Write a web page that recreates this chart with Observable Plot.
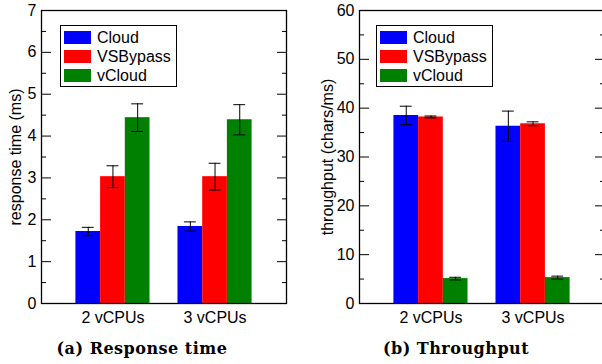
<!DOCTYPE html>
<html>
<head>
<meta charset="utf-8">
<script src="https://cdn.jsdelivr.net/npm/d3@7"></script>
<script src="https://cdn.jsdelivr.net/npm/@observablehq/plot@0.6"></script>
<style>
  html, body { margin: 0; padding: 0; background: #fff; }
  #wrap { position: relative; width: 602px; height: 364px; overflow: hidden; font-family: "Liberation Sans", Arial, sans-serif; }
  .panel { position: absolute; top: 0; width: 300px; height: 364px; }
  .panel svg { position: absolute; left: 0; top: 0; overflow: visible; }
  .legend { position: absolute; border: 1px solid #000; background: #fff; box-sizing: border-box; }
  .sw { position: absolute; width: 27px; height: 13px; }
  .lt { position: absolute; font-size: 16px; line-height: 16px; color: #000; white-space: nowrap; }
  .cap { position: absolute; top: 339px; width: 300px; text-align: center; font-family: "DejaVu Serif", serif; font-weight: bold; font-size: 16px; letter-spacing: 0.5px; line-height: 20px; color: #000; white-space: nowrap; }
</style>
</head>
<body>
<div id="wrap">
  <div class="panel" id="pa" style="left:0px"></div>
  <div class="panel" id="pb" style="left:318px"></div>
</div>
<script>
// ---- data ----
const groups = ["2 vCPUs", "3 vCPUs"];
const series = ["Cloud", "VSBypass", "vCloud"];
const colors = ["#0000ff", "#ff0000", "#008000"];

// (a) response time (ms)
const respCloud = [1.72, 1.84];
const respCloudErr = [0.10, 0.11];
const respVSBypass = [3.03, 3.03];
const respVSBypassErr = [0.26, 0.32];
const respVCloud = [4.44, 4.39];
const respVCloudErr = [0.33, 0.36];

// (b) throughput (chars/ms)
const tputCloud = [38.5, 36.3];
const tputCloudErr = [1.9, 3.1];
const tputVSBypass = [38.2, 36.8];
const tputVSBypassErr = [0.2, 0.4];
const tputVCloud = [5.1, 5.3];
const tputVCloudErr = [0.27, 0.3];

const respMajor = [0, 1, 2, 3, 4, 5, 6, 7];
const respMinor = [0.5, 1.5, 2.5, 3.5, 4.5, 5.5, 6.5];
const tputMajor = [0, 10, 20, 30, 40, 50, 60];
const tputMinor = [5, 15, 25, 35, 45, 55];

function rows(vals, errs) {
  const out = [];
  groups.forEach((g, gi) => {
    series.forEach((s, si) => {
      out.push({group: g, gi, series: s, si, value: vals[si][gi], err: errs[si][gi]});
    });
  });
  return out;
}

const respData = rows([respCloud, respVSBypass, respVCloud], [respCloudErr, respVSBypassErr, respVCloudErr]);
const tputData = rows([tputCloud, tputVSBypass, tputVCloud], [tputCloudErr, tputVSBypassErr, tputVCloudErr]);

const BW = 0.242;   // bar width in group units
const CAP = 0.058;  // half width of error caps
const center = d => d.gi + (d.si - 1) * BW;

function chart(data, yDomain, major, minor, ylabel, labelDx) {
  return Plot.plot({
    width: 300,
    height: 330,
    marginLeft: 41,
    marginRight: 14,
    marginTop: 10,
    marginBottom: 27,
    style: {fontFamily: "Liberation Sans, Arial, sans-serif", fontSize: "16px", color: "#000", background: "transparent", overflow: "visible"},
    x: {domain: [-0.7, 1.7], axis: null},
    y: {domain: yDomain, axis: null},
    color: {domain: series, range: colors},
    marks: [
      Plot.rectY(data, {x1: d => center(d) - BW / 2, x2: d => center(d) + BW / 2, y: "value", fill: "series"}),
      Plot.ruleX(data, {x: center, y1: d => d.value - d.err, y2: d => d.value + d.err, stroke: "#000", strokeWidth: 1}),
      Plot.ruleY(data, {x1: d => center(d) - CAP, x2: d => center(d) + CAP, y: d => d.value - d.err, stroke: "#000", strokeWidth: 1}),
      Plot.ruleY(data, {x1: d => center(d) - CAP, x2: d => center(d) + CAP, y: d => d.value + d.err, stroke: "#000", strokeWidth: 1}),
      Plot.axisY({ticks: major, tickSize: -10, tickPadding: 15, tickFormat: d3.format("d"), label: null, strokeWidth: 1}),
      Plot.axisY({ticks: minor, tickSize: -5, tickFormat: () => "", label: null}),
      Plot.axisY({anchor: "right", ticks: major, tickSize: -10, tickFormat: () => "", label: null}),
      Plot.axisY({anchor: "right", ticks: minor, tickSize: -5, tickFormat: () => "", label: null}),
      Plot.axisX({ticks: [0, 1], tickFormat: i => groups[i], tickSize: 0, tickPadding: 8, label: null}),
      Plot.text([ylabel], {text: d => d, frameAnchor: "left", textAnchor: "middle", lineAnchor: "middle", dx: labelDx, rotate: -90, fontSize: 16}),
      Plot.frame({stroke: "#000", strokeWidth: 1.3})
    ]
  });
}

function legend(panel, left, top) {
  const box = document.createElement("div");
  box.className = "legend";
  box.style.left = left + "px";
  box.style.top = top + "px";
  box.style.width = "117px";
  box.style.height = "62px";
  panel.appendChild(box);
  series.forEach((s, i) => {
    const sw = document.createElement("div");
    sw.className = "sw";
    sw.style.background = colors[i];
    sw.style.left = "3px";
    sw.style.top = (5 + i * 19) + "px";
    box.appendChild(sw);
    const t = document.createElement("div");
    t.className = "lt";
    t.textContent = s;
    t.style.left = "36px";
    t.style.top = (4 + i * 19) + "px";
    box.appendChild(t);
  });
}

function caption(panel, text, cx) {
  const c = document.createElement("div");
  c.className = "cap";
  c.textContent = text;
  c.style.left = (cx - 150) + "px";
  panel.appendChild(c);
}

const pa = document.getElementById("pa");
const pb = document.getElementById("pb");
pa.appendChild(chart(respData, [0, 7], respMajor, respMinor, "response time (ms)", -26));
pb.appendChild(chart(tputData, [0, 60], tputMajor, tputMinor, "throughput (chars/ms)", -32));
legend(pa, 60, 25);
legend(pb, 58, 25);
caption(pa, "(a) Response time", 142);
caption(pb, "(b) Throughput", 138);
</script>
</body>
</html>
